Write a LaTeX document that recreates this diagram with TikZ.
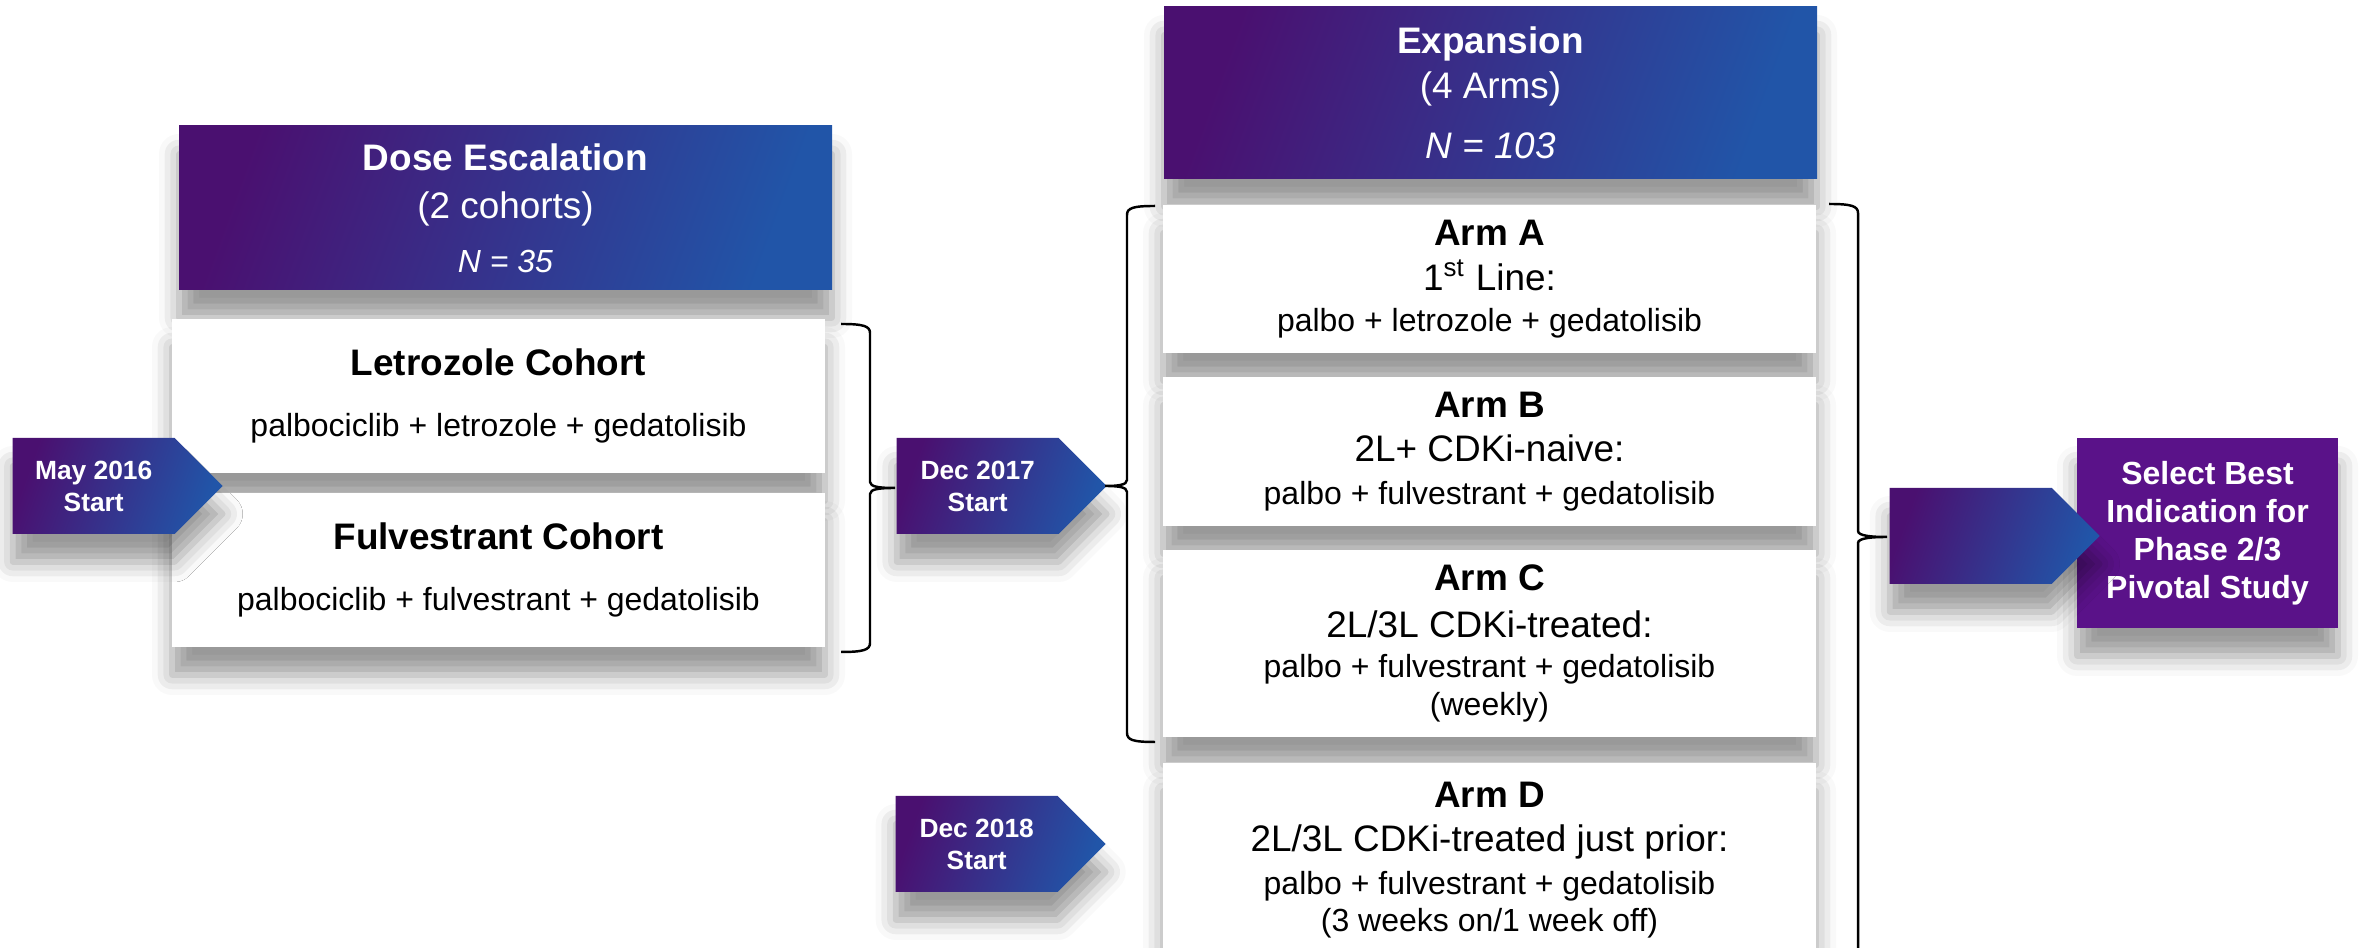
\documentclass[tikz,border=0pt]{standalone}
\usepackage{fontspec}
\setmainfont{Liberation Sans}
\usetikzlibrary{shapes.symbols, shadows.blur}

\definecolor{deeppurple}{RGB}{74,16,112}
\definecolor{deepblue}{RGB}{33,85,168}
\definecolor{selectpurple}{RGB}{90,18,137}

\newcommand{\hdfont}{\fontsize{10.5}{12.6}\selectfont\bfseries}
\newcommand{\subfont}{\fontsize{10.5}{12.6}\selectfont}
\newcommand{\drugfont}{\fontsize{9.1}{11.4}\selectfont}

\begin{document}
\begin{tikzpicture}[
		softshadow/.style={blur shadow={shadow xshift=0pt, shadow yshift=-0.28cm, shadow blur radius=0.2cm, shadow opacity=40}},
		gradbox/.style={softshadow, left color=deeppurple, right color=deepblue, shading angle=70, text=white, minimum width=6.53cm, align=center, inner sep=0pt, font=\drugfont},
		whitebox/.style={softshadow, fill=white, minimum width=6.53cm, align=center, inner sep=0pt, font=\drugfont},
		startflag/.style={gradbox, shape=signal, signal to=east, signal from=nowhere, signal pointer angle=90, minimum width=2.1cm, minimum height=0.96cm, anchor=west, font=\fontsize{7.5}{9.1}\selectfont\bfseries},
		bracebar/.style={line width=0.7pt, black},
	]
	\useasboundingbox (0, 0) rectangle (23.59, 9.48);
	\clip (0, 0) rectangle (23.59, 9.48);

	\node[gradbox, minimum height=1.64cm] (dose) at (5.055, 7.40) {{\hdfont Dose Escalation}\\[2.3pt]{\subfont (2 cohorts)}\\[4pt]\itshape N = 35};
	\node[whitebox, minimum height=1.54cm] (letro) at (4.985, 5.52) {{\hdfont Letrozole Cohort}\\[5.7pt]palbociclib + letrozole + gedatolisib};
	\node[whitebox, minimum height=1.54cm] (fulv) at (4.985, 3.78) {{\hdfont Fulvestrant Cohort}\\[5.7pt]palbociclib + fulvestrant + gedatolisib};

	\node[gradbox, minimum height=1.72cm] (expn) at (14.905, 8.55) {{\hdfont Expansion}\\[1.4pt]{\subfont (4 Arms)}\\[5.7pt]{\subfont\itshape N = 103}};
	\node[whitebox, minimum height=1.48cm] (armA) at (14.895, 6.69) {{\hdfont Arm A}\\[1.4pt]{\subfont 1\textsuperscript{st} Line:}\\[0.3pt]palbo + letrozole + gedatolisib};
	\node[whitebox, minimum height=1.49cm] (armB) at (14.895, 4.965) {{\hdfont Arm B}\\[1.1pt]{\subfont 2L+ CDKi-naive:}\\[0.9pt]palbo + fulvestrant + gedatolisib};
	\node[whitebox, minimum height=1.87cm] (armC) at (14.895, 3.045) {{\hdfont Arm C}\\[2pt]{\subfont 2L/3L CDKi-treated:}\\[0pt]palbo + fulvestrant + gedatolisib\\[-0.6pt](weekly)};
	\node[whitebox, minimum height=1.94cm] (armD) at (14.895, 0.88) {{\hdfont Arm D}\\[1.1pt]{\subfont 2L/3L CDKi-treated just prior:}\\[0.9pt]palbo + fulvestrant + gedatolisib\\[-0.9pt](3 weeks on/1 week off)};

	\node[startflag] (may16) at (0.12, 4.62) {May 2016\\Start};
	\node[startflag] (dec17) at (8.96, 4.62) {Dec 2017\\Start};
	\node[startflag] (dec18) at (8.95, 1.04) {Dec 2018\\Start};

	\node[softshadow, fill=selectpurple, text=white, minimum width=2.61cm, minimum height=1.90cm, align=center, inner sep=0pt, font=\fontsize{9.1}{10.8}\selectfont\bfseries] (best) at (22.075, 4.15) {Select Best\\Indication for\\Phase 2/3\\Pivotal Study};
	\node[startflag] (pick) at (18.89, 4.12) {};

	\coordinate (b1top) at (8.41, 6.24);
	\coordinate (b1tip) at (8.95, 4.60);
	\coordinate (b1bot) at (8.41, 2.96);
	\coordinate (b2top) at (11.55, 7.42);
	\coordinate (b2tip) at (11.05, 4.62);
	\coordinate (b2bot) at (11.55, 2.06);
	\coordinate (b3top) at (18.29, 7.44);
	\coordinate (b3tip) at (18.87, 4.11);

	\draw[bracebar] (b1top) .. controls +(0.22, 0) and +(0, 0.07) .. (8.70, 6.15) -- (8.70, 4.66)
		.. controls +(0, -0.05) and +(-0.15, 0) .. (b1tip)
		.. controls +(-0.15, 0) and +(0, 0.05) .. (8.70, 4.54) -- (8.70, 3.05)
		.. controls +(0, -0.07) and +(0.22, 0) .. (b1bot);
	\draw[bracebar] (b2top) .. controls +(-0.22, 0) and +(0, 0.07) .. (11.27, 7.33) -- (11.27, 4.68)
		.. controls +(0, -0.05) and +(0.13, 0) .. (b2tip)
		.. controls +(0.13, 0) and +(0, 0.05) .. (11.27, 4.56) -- (11.27, 2.15)
		.. controls +(0, -0.07) and +(-0.22, 0) .. (b2bot);
	\draw[bracebar] (b3top) .. controls +(0.22, 0) and +(0, 0.07) .. (18.58, 7.35) -- (18.58, 4.17)
		.. controls +(0, -0.05) and +(-0.15, 0) .. (b3tip)
		.. controls +(-0.15, 0) and +(0, 0.05) .. (18.58, 4.05) -- (18.58, -0.2);
\end{tikzpicture}
\end{document}
